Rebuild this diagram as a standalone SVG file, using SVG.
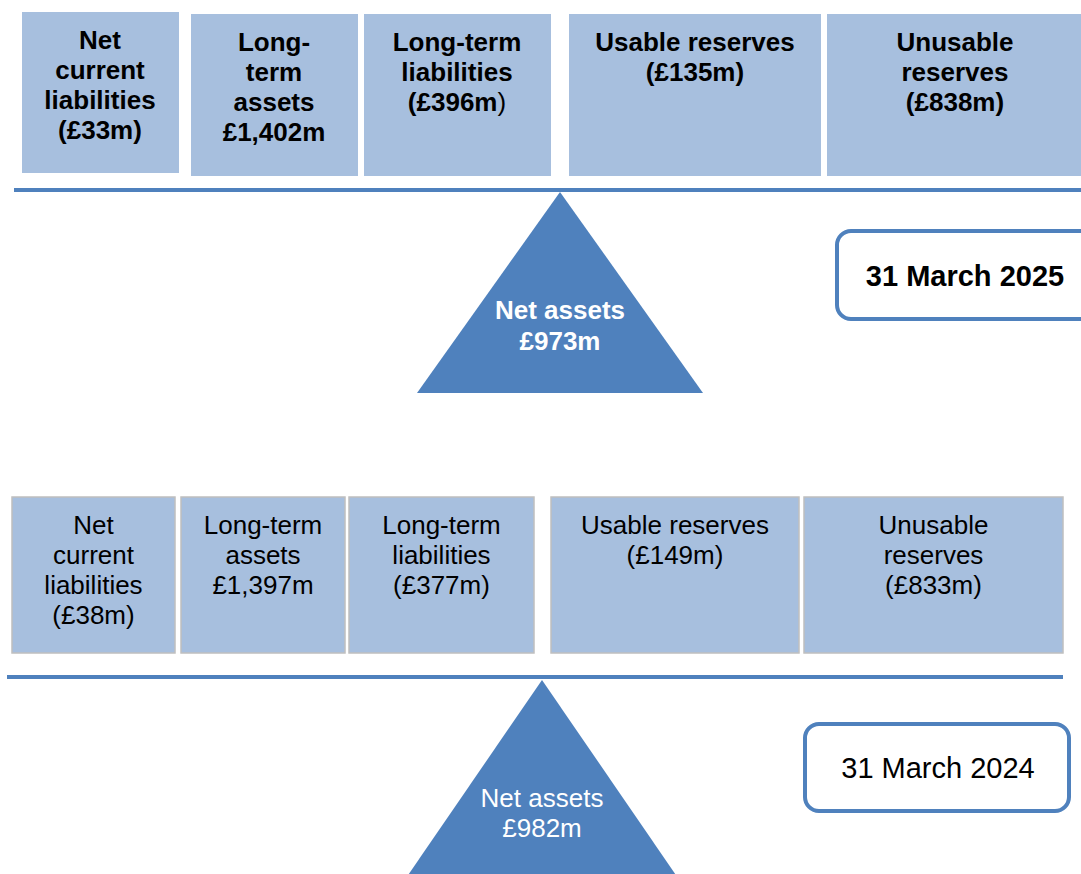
<svg xmlns="http://www.w3.org/2000/svg" width="1081" height="874" viewBox="0 0 1081 874">
<style>
.box{fill:#A7BFDE;}
.box2{fill:#A7BFDE;stroke:#BFBFBF;stroke-width:1.5;}
.beam{fill:#4F81BD;}
.tri{fill:#4F81BD;}
.date{fill:#FFFFFF;stroke:#4F81BD;stroke-width:4;}
text{font-family:"Liberation Sans",Arial,sans-serif;font-size:26px;text-anchor:middle;fill:#000;}
.b{font-weight:bold;}
.w{fill:#FFFFFF;}
.d{font-size:29px;}
</style>
<rect width="1081" height="874" fill="#FFFFFF"/>

<!-- 2025 -->
<g id="top-net-current-liabilities">
<rect class="box" x="22" y="12" width="157" height="161"/>
<text class="b" x="100"><tspan x="100" y="49">Net</tspan><tspan x="100" y="79">current</tspan><tspan x="100" y="109">liabilities</tspan><tspan x="100" y="139">(£33m)</tspan></text>
</g>
<g id="top-long-term-assets">
<rect class="box" x="191" y="14" width="167" height="162"/>
<text class="b" x="274"><tspan x="274" y="51">Long-</tspan><tspan x="274" y="81">term</tspan><tspan x="274" y="111">assets</tspan><tspan x="274" y="141">£1,402m</tspan></text>
</g>
<g id="top-long-term-liabilities">
<rect class="box" x="364" y="14" width="187" height="162"/>
<text class="b" x="457"><tspan x="457" y="51">Long-term</tspan><tspan x="457" y="81">liabilities</tspan><tspan x="457" y="111">(£396m<tspan font-weight="normal">)</tspan></tspan></text>
</g>
<g id="top-usable-reserves">
<rect class="box" x="569" y="14" width="252" height="162"/>
<text class="b" x="695"><tspan x="695" y="51">Usable reserves</tspan><tspan x="695" y="81">(£135m)</tspan></text>
</g>
<g id="top-unusable-reserves">
<rect class="box" x="827" y="14" width="256" height="162"/>
<text class="b" x="955"><tspan x="955" y="51">Unusable</tspan><tspan x="955" y="81">reserves</tspan><tspan x="955" y="111">(£838m)</tspan></text>
</g>
<g id="top-beam">
<rect class="beam" x="14" y="188" width="1067" height="4"/>
</g>
<g id="top-net-assets">
<polygon class="tri" points="560,192 703,393 417,393"/>
<text class="b w" x="560"><tspan x="560" y="319">Net assets</tspan><tspan x="560" y="350">£973m</tspan></text>
</g>
<g id="date-2025">
<rect class="date" x="837" y="231" width="264" height="88" rx="14"/>
<text class="b d" x="965" y="286">31 March 2025</text>
</g>

<!-- 2024 -->
<g id="bottom-net-current-liabilities">
<rect class="box2" x="12" y="497" width="163" height="156"/>
<text x="93.5"><tspan x="93.5" y="534">Net</tspan><tspan x="93.5" y="564">current</tspan><tspan x="93.5" y="594">liabilities</tspan><tspan x="93.5" y="624">(£38m)</tspan></text>
</g>
<g id="bottom-long-term-assets">
<rect class="box2" x="181" y="497" width="164" height="156"/>
<text x="263"><tspan x="263" y="534">Long-term</tspan><tspan x="263" y="564">assets</tspan><tspan x="263" y="594">£1,397m</tspan></text>
</g>
<g id="bottom-long-term-liabilities">
<rect class="box2" x="349" y="497" width="185" height="156"/>
<text x="441.5"><tspan x="441.5" y="534">Long-term</tspan><tspan x="441.5" y="564">liabilities</tspan><tspan x="441.5" y="594">(£377m)</tspan></text>
</g>
<g id="bottom-usable-reserves">
<rect class="box2" x="551" y="497" width="248" height="156"/>
<text x="675"><tspan x="675" y="534">Usable reserves</tspan><tspan x="675" y="564">(£149m)</tspan></text>
</g>
<g id="bottom-unusable-reserves">
<rect class="box2" x="804" y="497" width="259" height="156"/>
<text x="933.5"><tspan x="933.5" y="534">Unusable</tspan><tspan x="933.5" y="564">reserves</tspan><tspan x="933.5" y="594">(£833m)</tspan></text>
</g>
<g id="bottom-beam">
<rect class="beam" x="7" y="675" width="1056" height="4"/>
</g>
<g id="bottom-net-assets">
<polygon class="tri" points="542,680 680,881 404,881"/>
<text class="w" x="542"><tspan x="542" y="807">Net assets</tspan><tspan x="542" y="837">£982m</tspan></text>
</g>
<g id="date-2024">
<rect class="date" x="805" y="724" width="264" height="87" rx="14"/>
<text class="d" x="938" y="778">31 March 2024</text>
</g>
</svg>
